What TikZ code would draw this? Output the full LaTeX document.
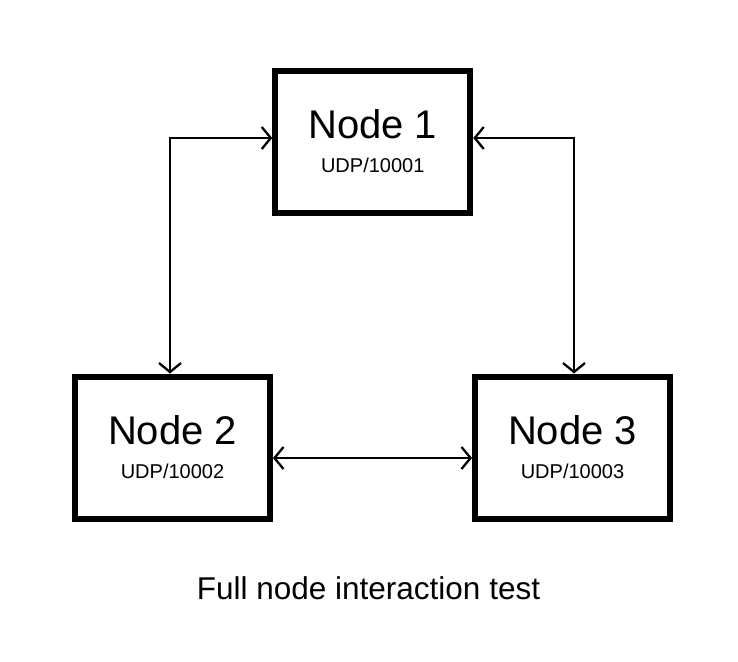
\documentclass[tikz,border=0pt]{standalone}
\usepackage{fontspec}
\setmainfont{Liberation Sans}
\usetikzlibrary{arrows.meta, positioning, calc}
\tikzstyle{host} = [rectangle, draw=black, line width=6pt, minimum width=195pt, minimum height=142pt, inner sep=0pt, align=center, font=\fontsize{40}{34}\selectfont]
\tikzstyle{link} = [line width=2.3pt, {Straight Barb[length=9pt,width=22pt]}-{Straight Barb[length=9pt,width=22pt]}]
\tikzstyle{caption} = [anchor=base, inner sep=0pt, font=\fontsize{31.5}{31.5}\selectfont]

\begin{document}
\begin{tikzpicture}[x=1pt, y=-1pt]
\useasboundingbox (0,0) rectangle (738,661);
\node (n1) [host] at (372.75,141.5) {Node 1\\{\fontsize{20}{24}\selectfont UDP/10001}};
\node (n2) [host] at (172.5,447.5) {Node 2\\{\fontsize{20}{24}\selectfont UDP/10002}};
\node (n3) [host] at (572.5,447.5) {Node 3\\{\fontsize{20}{24}\selectfont UDP/10003}};
\coordinate (lbend) at (170,138);
\coordinate (rbend) at (574,138);
\coordinate (mid) at (372,458);
\draw [link] (lbend -| n1.west) -- (lbend) -- (lbend |- n2.north);
\draw [link] (rbend -| n1.east) -- (rbend) -- (rbend |- n3.north);
\draw [link] (mid -| n2.east) -- (mid -| n3.west);
\node (title) [caption] at (368.5,599) {Full node interaction test};
\end{tikzpicture}
\end{document}
